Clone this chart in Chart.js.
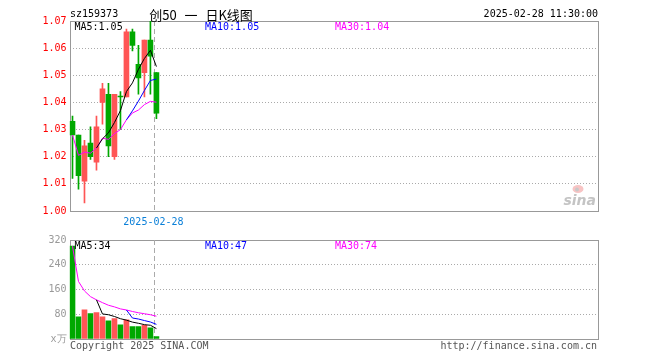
<!DOCTYPE html>
<html>
<head>
<meta charset="utf-8">
<script src="https://cdn.jsdelivr.net/npm/chart.js@4.4.1/dist/chart.umd.min.js"></script>
<style>
  body { margin: 0; background: #fff; }
  #wrap { position: relative; width: 660px; height: 360px; overflow: hidden; font-family: "DejaVu Sans Mono", monospace; font-size: 10px; }
  .t { position: absolute; line-height: 10px; white-space: pre; }
  #kline { position: absolute; left: 0; top: 0; }
  #vol { position: absolute; left: 0; top: 230px; }
</style>
</head>
<body>
<div id="wrap">
  <canvas id="kline" width="660" height="235"></canvas>
  <canvas id="vol" width="660" height="130"></canvas>

  <div class="t" style="left:70px;top:8.5px;color:#000">sz159373</div>
  <div class="t" style="left:141px;top:7.5px;width:120px;text-align:center;font-family:'Noto Sans CJK SC',sans-serif;font-size:13px;line-height:14px;word-spacing:5px;color:#000">创50 一 日K线图</div>
  <div class="t" style="right:62px;top:8.5px;color:#000">2025-02-28 11:30:00</div>

  <div class="t" style="left:74.5px;top:21.5px;color:#000">MA5:1.05</div>
  <div class="t" style="left:205px;top:21.5px;color:#0000ff">MA10:1.05</div>
  <div class="t" style="left:335px;top:21.5px;color:#ff00ff">MA30:1.04</div>

  <div class="t" style="left:74.5px;top:240.5px;color:#000">MA5:34</div>
  <div class="t" style="left:205px;top:240.5px;color:#0000ff">MA10:47</div>
  <div class="t" style="left:335px;top:240.5px;color:#ff00ff">MA30:74</div>

  <div class="t" style="left:70px;top:340.5px;color:#555">Copyright 2025 SINA.COM</div>
  <div class="t" style="right:63px;top:340.5px;color:#555">http://finance.sina.com.cn</div>
</div>

<script>
// 日K数据
const dates = ['2025-02-10', '2025-02-11', '2025-02-12', '2025-02-13', '2025-02-14',
               '2025-02-17', '2025-02-18', '2025-02-19', '2025-02-20', '2025-02-21',
               '2025-02-24', '2025-02-25', '2025-02-26', '2025-02-27', '2025-02-28'];
const open  = [1.033, 1.028, 1.011, 1.025, 1.018, 1.040, 1.043, 1.020, 1.042, 1.042, 1.066, 1.054, 1.051, 1.063, 1.051];
const high  = [1.035, 1.028, 1.026, 1.031, 1.035, 1.047, 1.047, 1.043, 1.044, 1.067, 1.067, 1.061, 1.063, 1.070, 1.051];
const low   = [1.012, 1.008, 1.003, 1.019, 1.015, 1.032, 1.020, 1.019, 1.030, 1.042, 1.059, 1.043, 1.042, 1.043, 1.034];
const close = [1.028, 1.013, 1.024, 1.020, 1.031, 1.045, 1.024, 1.043, 1.042, 1.066, 1.061, 1.049, 1.063, 1.057, 1.036];

// 均线
const ma5  = [null, null, null, null, 1.0232, 1.0266, 1.0288, 1.0326, 1.0370, 1.0440, 1.0472, 1.0522, 1.0562, 1.0592, 1.0532];
const ma10 = [null, null, null, null, null, null, null, null, null, 1.0336, 1.0369, 1.0405, 1.0444, 1.0481, 1.0486];
const ma30 = [1.0280, 1.0205, 1.0217, 1.0213, 1.0232, 1.0268, 1.0264, 1.0285, 1.0300, 1.0336, 1.0361, 1.0372, 1.0392, 1.0404, 1.0401];

// 成交量 (万)
const volume = [300, 72, 94, 82, 85, 72, 59, 66, 46, 62, 40, 40, 44, 36, 8];
const vma5   = [null, null, null, null, 126.6, 81, 78.4, 72.8, 65.6, 61, 54.6, 50.8, 46.4, 44.4, 33.6];
const vma10  = [null, null, null, null, null, null, null, null, null, 93.8, 67.8, 64.6, 59.6, 55, 47.3];
const vma30  = [300, 186, 155.3, 137, 126.6, 117.5, 109.1, 103.8, 97.3, 93.8, 88.9, 84.8, 81.7, 78.4, 73.7];

// 坐标刻度
const priceTicks = { min: 1.00, max: 1.07, step: 0.01 };
const volTicks = { min: 0, max: 320, step: 80 };

const RED = '#ff5555';
const GREEN = '#00a800';
const SLOTS = 88;
const MONO = '"DejaVu Sans Mono", monospace';

const labels = dates.concat(Array(SLOTS - dates.length).fill(''));
const colors = dates.map((d, i) => close[i] > open[i] ? RED : GREEN);

// 边框 + 当前日期的虚线
function makeFrame(withDate) {
    return {
        id: 'frame',
        beforeDatasetsDraw(chart) {
            const { ctx, chartArea: a } = chart;
            ctx.save();
            ctx.strokeStyle = '#999';
            ctx.lineWidth = 1;
            ctx.strokeRect(Math.round(a.left) + 0.5, Math.round(a.top) + 0.5,
                           Math.round(a.right - a.left), Math.round(a.bottom - a.top));
            const x = Math.round(chart.scales.x.getPixelForValue(dates.length - 1) - 2.5) + 0.5;
            ctx.strokeStyle = '#aaa';
            ctx.setLineDash([5, 3]);
            ctx.beginPath();
            ctx.moveTo(x, a.top);
            ctx.lineTo(x, a.bottom + (withDate ? 2 : 0));
            ctx.stroke();
            ctx.restore();
        },
        afterDraw(chart) {
            if (!withDate) return;
            const { ctx, chartArea: a } = chart;
            const x = chart.scales.x.getPixelForValue(dates.length - 1) - 3;
            ctx.save();
            ctx.font = '10px ' + MONO;
            ctx.fillStyle = '#0a7fd8';
            ctx.textAlign = 'center';
            ctx.fillText(dates[dates.length - 1], x, a.bottom + 14);
            // sina 水印
            ctx.font = 'italic bold 14px "DejaVu Sans"';
            ctx.fillStyle = '#c4c4c4';
            ctx.textAlign = 'right';
            ctx.fillText('sina', a.right - 1, a.bottom - 6);
            ctx.fillStyle = '#f8c4c4';
            ctx.beginPath();
            ctx.ellipse(a.right - 19, a.bottom - 22, 5.5, 4, 0, 0, Math.PI * 2);
            ctx.fill();
            ctx.fillStyle = '#c8c8c8';
            ctx.beginPath();
            ctx.arc(a.right - 20, a.bottom - 21.5, 2, 0, Math.PI * 2);
            ctx.fill();
            ctx.restore();
        }
    };
}

function yAxis(t, color, fmt) {
    return {
        min: t.min,
        max: t.max,
        afterFit(scale) { scale.width = 69.5; },
        ticks: { stepSize: t.step, color: color, padding: 3, font: { family: MONO, size: 10 }, callback: fmt },
        grid: { color: '#aaa', drawTicks: false },
        border: { display: false, dash: [1, 2] }
    };
}

const common = {
    responsive: false,
    animation: false,
    events: [],
    plugins: { legend: { display: false }, tooltip: { enabled: false } }
};

new Chart(document.getElementById('kline'), {
    type: 'bar',
    data: {
        labels: labels,
        datasets: [
            { type: 'line', data: ma5, borderColor: '#000', borderWidth: 1, pointRadius: 0, order: 0 },
            { type: 'line', data: ma10, borderColor: '#0000ff', borderWidth: 1, pointRadius: 0, order: 0 },
            { type: 'line', data: ma30, borderColor: '#ff00ff', borderWidth: 1, pointRadius: 0, order: 0 },
            { data: dates.map((d, i) => [open[i], close[i]]), backgroundColor: colors, barThickness: 5,
              grouped: false, minBarLength: 1, order: 2 },
            { data: dates.map((d, i) => [low[i], high[i]]), backgroundColor: colors, barThickness: 1,
              grouped: false, order: 3 }
        ]
    },
    options: {
        ...common,
        layout: { padding: { top: 21, right: 63, bottom: 24, left: 0 } },
        scales: {
            x: { display: false, offset: true },
            y: yAxis(priceTicks, '#ff0000', v => v.toFixed(2))
        }
    },
    plugins: [makeFrame(true)]
});

new Chart(document.getElementById('vol'), {
    type: 'bar',
    data: {
        labels: labels,
        datasets: [
            { type: 'line', data: vma5, borderColor: '#000', borderWidth: 1, pointRadius: 0, order: 0 },
            { type: 'line', data: vma10, borderColor: '#0000ff', borderWidth: 1, pointRadius: 0, order: 0 },
            { type: 'line', data: vma30, borderColor: '#ff00ff', borderWidth: 1, pointRadius: 0, order: 0 },
            { data: volume, backgroundColor: colors, barThickness: 5, grouped: false, order: 2 }
        ]
    },
    options: {
        ...common,
        layout: { padding: { top: 10, right: 63, bottom: 21, left: 0 } },
        scales: {
            x: { display: false, offset: true },
            y: yAxis(volTicks, '#999', v => v === 0 ? 'x万' : v)
        }
    },
    plugins: [makeFrame(false)]
});
</script>
</body>
</html>
